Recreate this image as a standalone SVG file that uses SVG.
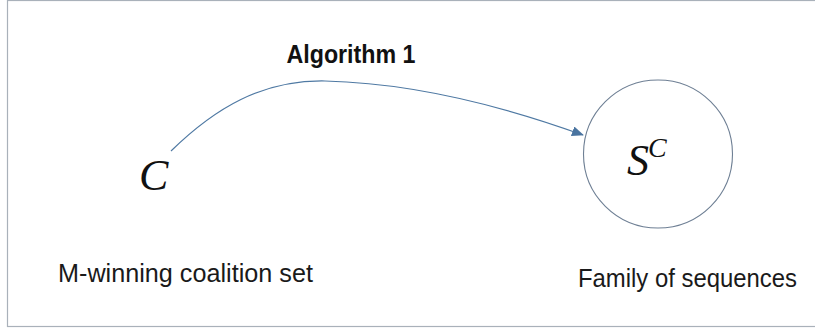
<svg xmlns="http://www.w3.org/2000/svg" width="815" height="328" viewBox="0 0 815 328">
<style>
.lbl{font-family:"Liberation Sans",Arial,sans-serif;font-size:25px;fill:#1a1a1a}
.math{font-family:"Liberation Serif","DejaVu Serif",serif;font-style:italic;fill:#111}
</style>
<defs>
<marker id="ah" markerWidth="12" markerHeight="10" refX="11" refY="5" orient="auto" markerUnits="userSpaceOnUse">
<path d="M0,0 L12,5 L0,10 Z" fill="#4a74a0"/>
</marker>
</defs>
<rect x="0" y="0" width="815" height="328" fill="#ffffff"/>
<rect x="7.5" y="0.5" width="810" height="326" fill="none" stroke="#a9b1ba" stroke-width="1.2"/>
<g id="connectors">
<path d="M171,151 C215,108 262,80 325,81 C410,83 500,105 583,135" fill="none" stroke="#4f79a3" stroke-width="1.2" marker-end="url(#ah)"/>
<text x="351" y="63" text-anchor="middle" font-family="Liberation Sans,Arial,sans-serif" font-weight="bold" font-size="25" fill="#111" textLength="129" lengthAdjust="spacingAndGlyphs">Algorithm 1</text>
</g>
<g id="node-C">
<text class="math" x="139" y="190" font-size="44">C</text>
<text class="lbl" x="58" y="282" textLength="255" lengthAdjust="spacingAndGlyphs">M-winning coalition set</text>
</g>
<g id="node-S">
<ellipse cx="658" cy="154" rx="74.5" ry="74" fill="none" stroke="#6e7f94" stroke-width="1.1"/>
<text class="math" x="627" y="175" font-size="44">S</text>
<text class="math" x="648" y="157" font-size="28">C</text>
<text class="lbl" x="578" y="287" textLength="219" lengthAdjust="spacingAndGlyphs">Family of sequences</text>
</g>
</svg>
